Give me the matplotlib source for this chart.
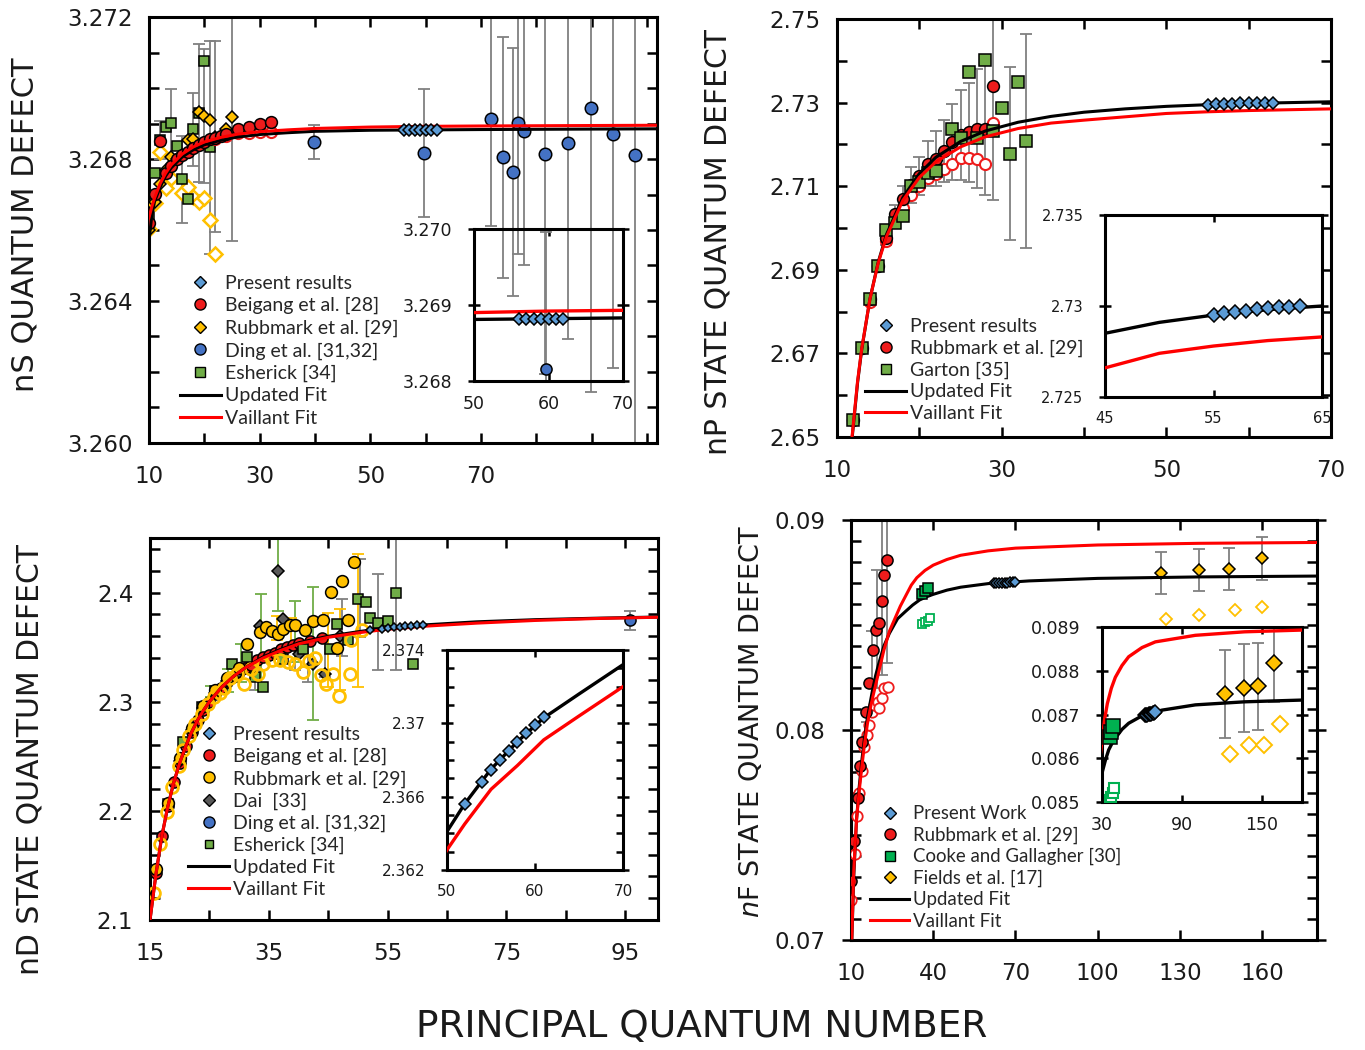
import matplotlib
matplotlib.use('Agg')
import numpy as np
import matplotlib.pyplot as plt
from matplotlib.lines import Line2D
from matplotlib.ticker import FixedLocator, FuncFormatter

plt.rcParams['font.family'] = ['DejaVu Sans']

W, H = 1365, 1050

C_PRESENT = '#5b9bd5'
C_FIT_RED = '#ff0000'
C_RED = '#ee1c1c'
C_GOLD = '#ffc000'
C_DING = '#4472c4'
C_GREEN = '#70ad47'
C_COOKE = '#00b050'
C_DAI = '#595959'
C_BAR = '#808080'

# ---------------- nS data ----------------
fitS_black_n = [9.8, 10, 10.5, 11, 12, 13, 14, 16, 18, 20, 23, 26, 30, 35, 40, 50, 60, 70, 85, 101.5]
fitS_black = [3.2650, 3.2657, 3.2664, 3.2668, 3.2672, 3.26752, 3.26775, 3.26806, 3.26826, 3.26840,
              3.26853, 3.26862, 3.26869, 3.26874, 3.26878, 3.26881, 3.26882, 3.26883, 3.26884, 3.26885]
fitS_red_n = [10, 10.5, 11, 12, 13, 14, 16, 18, 20, 23, 26, 30, 35, 40, 50, 60, 70, 85, 101.5]
fitS_red = [3.26635, 3.26665, 3.26690, 3.26730, 3.26760, 3.26783, 3.26814, 3.26834, 3.26848, 3.26861,
            3.26870, 3.26877, 3.26882, 3.26886, 3.26890, 3.26892, 3.26893, 3.26894, 3.26895]

presS_n = [56, 57, 58, 59, 60, 61, 62]
presS = [3.26882, 3.26882, 3.26882, 3.26882, 3.26882, 3.26882, 3.26882]

beigS_n = [10, 11, 12, 13, 14, 15, 16, 17, 18, 19, 20, 21, 22, 23, 24, 26, 28, 30, 32]
beigS = [3.2662, 3.2670, 3.2685, 3.2676, 3.2678, 3.2680, 3.2681, 3.2682, 3.26832, 3.2684,
         3.26847, 3.26855, 3.2686, 3.26865, 3.2687, 3.26884, 3.26891, 3.26898, 3.26903]
beigS_open_n = [22, 24, 26, 28, 30, 32]
beigS_open = [3.26855, 3.26866, 3.26872, 3.26874, 3.26875, 3.26876]

rubbS_n = [10, 11, 12, 13, 14, 15, 16, 17, 18, 19, 20, 21, 22, 24, 25]
rubbS = [3.2660, 3.2668, 3.2673, 3.2677, 3.26806, 3.2680, 3.26811, 3.26853, 3.26855, 3.26933,
         3.26921, 3.26910, 3.26863, 3.26884, 3.26919]
rubbS_err = [0, 0, 0, 0, 0, 0, 0, 0, 0, 0, 0.0019, 0, 0.0027, 0, 0.0035]
rubbS_open_n = [10, 11, 12, 13, 14, 16, 17, 18, 19, 20, 21, 22]
rubbS_open = [3.26603, 3.26677, 3.26820, 3.26717, 3.26746, 3.26705, 3.26722, 3.26694, 3.26680,
              3.26690, 3.26628, 3.26532]

dingS_n = [39.8, 59.7, 71.8, 73.9, 75.8, 76.7, 77.8, 81.6, 85.8, 89.9, 93.8, 97.8]
dingS = [3.26849, 3.26816, 3.26912, 3.26805, 3.26763, 3.26902, 3.26880, 3.26814, 3.26844, 3.26943,
         3.26870, 3.26810]
dingS_err = [0.00048, 0.0018, 0.0030, 0.0034, 0.0035, 0.0037, 0.0038, 0.0062, 0.0055, 0.0080,
             0.0066, 0.0090]

eshS_n = [10, 11, 12, 13, 14, 15, 16, 17, 18, 19, 20, 21]
eshS = [3.26637, 3.26761, 3.26853, 3.26889, 3.26902, 3.26837, 3.26743, 3.26686, 3.26884, 3.26930,
        3.27077, 3.26833]
eshS_err = [0, 0, 0.00054, 0, 0.00094, 0, 0.00122, 0, 0.00103, 0.00195, 0, 0.0030]

# ---------------- nP data ----------------
fitP_n = [11.8, 12.5, 13, 14, 15, 16, 18, 20, 22, 25, 28, 32, 36, 40, 45, 50, 55, 60, 65, 70]
fitP_black = [2.6490, 2.6630, 2.6709, 2.6830, 2.6918, 2.6984, 2.7073, 2.7130, 2.7169, 2.7207,
              2.7232, 2.7253, 2.7267, 2.7277, 2.7285, 2.7291, 2.7295, 2.7298, 2.7300, 2.7302]
fitP_red = [2.6495, 2.6634, 2.6711, 2.6830, 2.6916, 2.6979, 2.7066, 2.7121, 2.7158, 2.7194,
            2.7218, 2.7238, 2.7251, 2.7258, 2.7266, 2.7274, 2.7278, 2.7281, 2.7283, 2.7285]

presP_n = [55, 56, 57, 58, 59, 60, 61, 62, 63]
presP = [2.72951, 2.72960, 2.72968, 2.72974, 2.72982, 2.72987, 2.72993, 2.72996, 2.73000]

rubbP_n = [12, 13, 14, 15, 16, 17, 18, 19, 20, 21, 22, 23, 24, 25, 26, 27, 28, 29]
rubbP = [2.6540, 2.6712, 2.6829, 2.6908, 2.6975, 2.7034, 2.7070, 2.7104, 2.7125, 2.7154, 2.7166,
         2.7184, 2.7205, 2.7222, 2.7229, 2.7238, 2.7236, 2.7340]
rubbP_err = [0.0005, 0.0005, 0.0005, 0.001, 0.0015, 0.002, 0.003, 0.0043, 0.0046, 0.0054, 0.0065,
             0.0075, 0.0091, 0.0108, 0.0119, 0.0142, 0.0156, 0.0272]
rubbP_open_n = [14, 16, 18, 19, 20, 21, 22, 23, 24, 25, 26, 27, 28, 29]
rubbP_open = [2.6822, 2.6968, 2.7048, 2.7080, 2.7100, 2.7120, 2.7128, 2.7140, 2.7154, 2.7168,
              2.7168, 2.7164, 2.7154, 2.7252]

gartP_n = [12, 13, 14, 15, 16, 17, 18, 19, 20, 21, 22, 24, 25, 26, 27, 28, 29, 30, 31, 32, 33]
gartP = [2.6541, 2.6712, 2.6829, 2.6908, 2.6996, 2.7012, 2.7028, 2.7100, 2.7109, 2.7132, 2.7136,
         2.7238, 2.7216, 2.7373, 2.7216, 2.7402, 2.7232, 2.7287, 2.7178, 2.7349, 2.7207]
gartP_err = [0, 0, 0, 0, 0, 0, 0, 0, 0, 0, 0, 0, 0, 0, 0, 0, 0, 0, 0.0206, 0, 0.0256]

# ---------------- nD data ----------------
fitD_n = [15, 15.5, 16, 17, 18, 19, 20, 21, 22, 23, 24, 25, 27, 29, 31, 34, 37, 40, 45, 50, 52,
          55, 58, 61, 65, 70, 80, 90, 100.5]
fitD_black = [2.100, 2.121, 2.142, 2.177, 2.204, 2.226, 2.244, 2.259, 2.272, 2.283, 2.292, 2.300,
              2.313, 2.323, 2.331, 2.341, 2.348, 2.354, 2.3600, 2.3641, 2.3656, 2.3675, 2.3690,
              2.3703, 2.3716, 2.3732, 2.3752, 2.3765, 2.3776]
fitD_red = [2.100, 2.121, 2.142, 2.177, 2.204, 2.226, 2.244, 2.259, 2.272, 2.283, 2.292, 2.300,
            2.313, 2.323, 2.331, 2.340, 2.347, 2.353, 2.3590, 2.3631, 2.3645, 2.3664, 2.3677,
            2.3691, 2.3704, 2.3720, 2.3745, 2.3762, 2.3774]

presD_n = [52, 54, 55, 56, 57, 58, 59, 60, 61]
presD = [2.36558, 2.36681, 2.36745, 2.36800, 2.36851, 2.36900, 2.36946, 2.36991, 2.37033]

beigD_n = [16, 17, 18, 19, 20, 21, 22, 23, 24, 25, 26, 27, 28, 29, 30, 31, 32, 33, 34, 35, 36, 37,
           38, 39, 40, 42, 44]
beigD = [2.143, 2.177, 2.204, 2.226, 2.244, 2.259, 2.272, 2.283, 2.292, 2.300, 2.307, 2.313, 2.318,
         2.323, 2.327, 2.331, 2.334, 2.338, 2.341, 2.343, 2.345, 2.348, 2.350, 2.352, 2.354, 2.356,
         2.358]

rubbD_n = [16, 18, 20, 22, 24, 26, 28, 30, 31.4, 33.5, 34.5, 35.5, 36.6, 37.4, 38.5, 39.4, 41.1,
           42.4, 44.1, 45.4, 46.4, 47.3, 48.4, 49.3]
rubbD = [2.147, 2.207, 2.248, 2.276, 2.296, 2.311, 2.322, 2.331, 2.3531, 2.3637, 2.3683, 2.3652,
         2.3616, 2.3668, 2.3704, 2.3704, 2.3659, 2.3744, 2.3750, 2.4009, 2.3494, 2.4110, 2.3750,
         2.4277]
rubbD_open_n = [15.6, 16.7, 17.8, 18.7, 19.8, 20.6, 21.6, 22.6, 23.7, 24.8, 25.8, 26.8, 27.5,
                28.4, 29.7, 30.9, 32.0, 33.2, 34.0, 35.5, 36.8, 38.2, 39.4, 40.8, 41.8, 42.7,
                43.8, 44.7, 45.8, 46.8, 48.6, 48.9, 50.6]
rubbD_open = [2.1243, 2.1694, 2.1990, 2.2219, 2.2408, 2.2554, 2.2683, 2.2799, 2.2890, 2.2975,
              2.3040, 2.3080, 2.3130, 2.3220, 2.3256, 2.3165, 2.3300, 2.3256, 2.3348, 2.3378,
              2.3378, 2.3363, 2.3348, 2.3271, 2.3371, 2.3402, 2.3241, 2.3165, 2.3256, 2.3048,
              2.3256, 2.3561, 2.3659]
rubbD_bar_n = [36.3, 38.8, 45.0, 46.9, 50.0]
rubbD_bar_c = [2.3675, 2.362, 2.3477, 2.3477, 2.3744]
rubbD_bar_e = [0.011, 0.015, 0.034, 0.037, 0.061]

daiD_n = [20, 22, 24, 26, 28, 30, 33.5, 36.6, 37.4, 40, 42.5, 44.5, 47]
daiD = [2.246, 2.274, 2.294, 2.308, 2.319, 2.327, 2.3698, 2.4195, 2.3760, 2.3440, 2.3348, 2.3256,
        2.3600]

dingD_n = [95.8]
dingD = [2.3745]
dingD_err = [0.0087]

eshD_n = [18, 20.6, 23.7, 26, 28.8, 31.3, 32.7, 34.0, 37.4, 40.8, 45.3, 46.4, 48.4, 50.0, 51.4,
          52.0, 53.4, 55.1, 56.4, 59.3]
eshD = [2.206, 2.263, 2.295, 2.310, 2.3348, 2.3408, 2.3225, 2.3134, 2.3393, 2.3485, 2.3485, 2.3714,
        2.3561, 2.3942, 2.3911, 2.3768, 2.3719, 2.3744, 2.3994, 2.3348]
eshD_gbar_n = [25.3, 28.1, 30.4, 33.7, 36.6, 39.4, 42.4]
eshD_gbar_c = [2.309, 2.3195, 2.3355, 2.3545, 2.4195, 2.3645, 2.3439]
eshD_gbar_e = [0.005, 0.0107, 0.0175, 0.0442, 0.036, 0.0282, 0.061]
eshD_kbar_n = [32.7, 39.4, 41.6, 44.5, 47.3, 50.4, 53.4, 56.4]
eshD_kbar_c = [2.3195, 2.3408, 2.337, 2.3416, 2.3683, 2.395, 2.3728, 2.3896]
eshD_kbar_e = [0.0091, 0.0122, 0.019, 0.019, 0.026, 0.036, 0.044, 0.061]

# ---------------- nF data ----------------
fitF_black_n = [10.3, 11, 12, 13, 14, 15, 16, 17, 18, 19, 20, 22, 24, 27, 30, 32.5, 35, 37.5, 40,
                45, 50, 60, 75, 100, 137, 180]
fitF_black = [0.0700, 0.0730, 0.0757, 0.0773, 0.0786, 0.0797, 0.0806, 0.0813, 0.0820, 0.0826,
              0.0831, 0.0840, 0.0846, 0.0853, 0.08566, 0.08595, 0.08619, 0.08634, 0.08646,
              0.08666, 0.08680, 0.08697, 0.08710, 0.08722, 0.08729, 0.08733]
fitF_red_n = [10.3, 11, 12, 13, 14, 15, 16, 17, 18, 20, 22, 24, 26, 28, 30, 32, 34, 37, 40, 45,
              50, 60, 70, 100, 137, 180]
fitF_red = [0.0701, 0.0733, 0.0757, 0.0771, 0.0783, 0.0794, 0.0803, 0.0810, 0.0816, 0.0827,
            0.0838, 0.0847, 0.0853, 0.0859, 0.0864, 0.0869, 0.08725, 0.08760, 0.08785, 0.08812,
            0.08832, 0.08853, 0.08866, 0.08881, 0.08889, 0.08893]

presF_n = [62, 63, 64, 65, 66, 67, 68, 69, 70]
presF = [0.08698, 0.08699, 0.08700, 0.08701, 0.08702, 0.08702, 0.08703, 0.08704, 0.08705]

rubbF_n = [10, 11.2, 12.4, 13.3, 13.9, 15.4, 16.7, 17.9, 19.1, 20.2, 21.4, 22.2, 23]
rubbF = [0.07281, 0.07471, 0.07678, 0.0783, 0.07941, 0.08087, 0.08222, 0.08381, 0.08476, 0.08508,
         0.08614, 0.08738, 0.0881]
rubbF_bar_n = [16, 17.5, 19.4, 21.2, 23]
rubbF_bar_c = [0.0800, 0.0835, 0.0848, 0.0863, 0.0866]
rubbF_bar_e = [0.0004, 0.0012, 0.0028, 0.0037, 0.0034]
rubbF_open_n = [10, 11.5, 12.1, 12.9, 13.9, 14.9, 15.7, 16.6, 17.5, 18.5, 19.7, 20.3, 21.4, 22.2,
                23.4]
rubbF_open = [0.0719, 0.07408, 0.0759, 0.07698, 0.07805, 0.07921, 0.07976, 0.08024, 0.08087,
              0.08119, 0.08135, 0.08106, 0.08154, 0.08198, 0.08206]

cookeF_n = [36, 37, 38]
cookeF = [0.08649, 0.08660, 0.08674]
cookeF_open_n = [36, 37, 38, 39]
cookeF_open = [0.08505, 0.08512, 0.08520, 0.08531]

fieldsF_n = [123, 137, 148, 160]
fieldsF = [0.08746, 0.08762, 0.08765, 0.08818]
fieldsF_err = [0.0010, 0.0010, 0.0010, 0.00103]
fieldsF_open_n = [125, 137, 150, 160]
fieldsF_open = [0.08529, 0.08548, 0.08571, 0.08587]

fieldsF_in_n = [122.3, 136.3, 146.8, 159.3]
fieldsF_in = [0.08747, 0.08761, 0.08764, 0.08817]
fieldsF_in_err = [0.0010, 0.0010, 0.0010, 0.00089]
fieldsF_in_open_n = [126, 140.3, 151.8, 163.5]
fieldsF_in_open = [0.0861, 0.0863, 0.0863, 0.08678]


def box(l, t, r, b):
    return [l / W, 1 - b / H, (r - l) / W, (b - t) / H]


def frame(ax, xmaj, ymaj, xmin=(), ymin=(), fmt='%.3f', size=16.5, padx=16, pady=12,
          lw=2.2, tl=7, majdir='in'):
    for sp in ax.spines.values():
        sp.set_linewidth(lw)
    ax.xaxis.set_major_locator(FixedLocator(xmaj))
    ax.xaxis.set_minor_locator(FixedLocator(list(xmin)))
    ax.yaxis.set_major_locator(FixedLocator(ymaj))
    ax.yaxis.set_minor_locator(FixedLocator(list(ymin)))
    if fmt == 'g':
        ax.yaxis.set_major_formatter(FuncFormatter(lambda v, p: '%g' % round(v, 6)))
    else:
        ax.yaxis.set_major_formatter(FuncFormatter(lambda v, p: fmt % v))
    ax.xaxis.set_major_formatter(FuncFormatter(lambda v, p: '%g' % v))
    ax.tick_params(which='both', direction='in', top=True, right=True, width=1.8,
                   length=tl, labelsize=size, labelcolor='#1a1a1a')
    ax.tick_params(which='major', axis='y', direction=majdir,
                   length=tl * (1.8 if majdir == 'inout' else 1))
    ax.tick_params(axis='x', pad=padx)
    ax.tick_params(axis='y', pad=pady)


def bars(ax, n, c, e, color=C_BAR, lw=1.3, cap=4, z=2):
    n, c, e = np.asarray(n), np.asarray(c), np.asarray(e)
    m = e > 0
    ax.errorbar(n[m], c[m], yerr=e[m], fmt='none', ecolor=color, elinewidth=lw,
                capsize=cap, capthick=lw, zorder=z)


def pts(ax, n, v, marker, face, edge='k', ms=8, mew=1.1, z=4):
    ax.plot(n, v, ls='none', marker=marker, ms=ms, mfc=face, mec=edge, mew=mew, zorder=z)


def fits(ax, nb, vb, nr, vr, lw=2.2):
    ax.plot(nb, vb, color='k', lw=lw, zorder=5)
    ax.plot(nr, vr, color=C_FIT_RED, lw=lw, zorder=5.1)


def legend(ax, items, anchor, fs=14, spacing=0.27):
    hs = [Line2D([], [], label=lab, **kw) for lab, kw in items]
    lg = ax.legend(handles=hs, loc='upper left', bbox_to_anchor=anchor, frameon=False,
                   prop={'family': 'Lato', 'size': fs}, labelspacing=spacing,
                   handlelength=2.1, handletextpad=0.2, borderaxespad=0, borderpad=0,
                   labelcolor='#262626')
    lg.set_zorder(10)


def mk(marker, face, ms=7, edge='k'):
    return dict(ls='none', marker=marker, ms=ms, mfc=face, mec=edge, mew=1)


LINE_K = dict(color='k', lw=2.2)
LINE_R = dict(color=C_FIT_RED, lw=2.2)

fig = plt.figure(figsize=(W / 100, H / 100), dpi=100)

# ================= nS panel =================
ax1 = fig.add_axes(box(149, 17, 657, 443))
bars(ax1, dingS_n, dingS, dingS_err)
bars(ax1, eshS_n, eshS, eshS_err)
bars(ax1, rubbS_n, rubbS, rubbS_err)
pts(ax1, rubbS_open_n, rubbS_open, 'D', 'white', C_GOLD, ms=7, mew=1.8)
pts(ax1, eshS_n, eshS, 's', C_GREEN, ms=7.5)
pts(ax1, rubbS_n, rubbS, 'D', C_GOLD, ms=6.5)
pts(ax1, beigS_open_n, beigS_open, 'o', 'white', C_RED, ms=8, mew=1.5)
pts(ax1, beigS_n, beigS, 'o', C_RED, ms=8.5)
pts(ax1, dingS_n, dingS, 'o', C_DING, ms=9)
fits(ax1, fitS_black_n, fitS_black, fitS_red_n, fitS_red)
pts(ax1, presS_n, presS, 'D', C_PRESENT, ms=6, z=6)
ax1.set_xlim(10, 101.8)
ax1.set_ylim(3.260, 3.272)
frame(ax1, [10, 30, 50, 70], [3.260, 3.264, 3.268, 3.272],
      xmin=[20, 40, 60, 80, 90, 100], ymin=np.arange(3.261, 3.2715, 0.001), fmt='%.3f')
legend(ax1, [('Present results', mk('D', C_PRESENT, 6)),
             ('Beigang et al. [28]', mk('o', C_RED, 8)),
             ('Rubbmark et al. [29]', mk('D', C_GOLD, 6)),
             ('Ding et al. [31,32]', mk('o', C_DING, 8)),
             ('Esherick [34]', mk('s', C_GREEN, 7)),
             ('Updated Fit', LINE_K), ('Vaillant Fit', LINE_R)], (0.061, 0.395))

in1 = fig.add_axes(box(474, 229, 623, 381))
in1.patch.set_alpha(0)
bars(in1, dingS_n, dingS, dingS_err)
pts(in1, dingS_n, dingS, 'o', C_DING, ms=8)
fits(in1, fitS_black_n, fitS_black, fitS_red_n, fitS_red, lw=2.4)
pts(in1, presS_n, presS, 'D', C_PRESENT, ms=6, z=6)
in1.set_xlim(50, 70)
in1.set_ylim(3.268, 3.270)
frame(in1, [50, 60, 70], [3.268, 3.269, 3.270], fmt='%.3f', size=12.5, padx=10, pady=11,
      tl=5, majdir='inout')

# ================= nP panel =================
ax2 = fig.add_axes(box(837, 19, 1331, 437))
bars(ax2, rubbP_n, rubbP, rubbP_err)
bars(ax2, gartP_n, gartP, gartP_err)
pts(ax2, rubbP_open_n, rubbP_open, 'o', 'white', C_RED, ms=8, mew=1.5)
pts(ax2, rubbP_n, rubbP, 'o', C_RED, ms=8.5)
pts(ax2, gartP_n, gartP, 's', C_GREEN, ms=8.5)
fits(ax2, fitP_n, fitP_black, fitP_n, fitP_red)
pts(ax2, presP_n, presP, 'D', C_PRESENT, ms=6, z=6)
ax2.set_xlim(10, 70)
ax2.set_ylim(2.65, 2.75)
frame(ax2, [10, 30, 50, 70], [2.65, 2.67, 2.69, 2.71, 2.73, 2.75],
      xmin=[20, 40, 60], ymin=[2.66, 2.68, 2.70, 2.72, 2.74], fmt='%.2f')
legend(ax2, [('Present results', mk('D', C_PRESENT, 6)),
             ('Rubbmark et al. [29]', mk('o', C_RED, 8)),
             ('Garton [35]', mk('s', C_GREEN, 7)),
             ('Updated Fit', LINE_K), ('Vaillant Fit', LINE_R)], (0.057, 0.284),
       spacing=0.23)

in2 = fig.add_axes(box(1105, 215, 1322, 397))
in2.patch.set_alpha(0)
fits(in2, fitP_n, fitP_black, fitP_n, fitP_red, lw=2.4)
pts(in2, presP_n, presP, 'D', C_PRESENT, ms=7, z=6)
in2.set_xlim(45, 65)
in2.set_ylim(2.725, 2.735)
frame(in2, [45, 55, 65], [2.725, 2.73, 2.735], fmt='g', size=10.5, padx=10, pady=11,
      tl=5, majdir='inout')

# ================= nD panel =================
ax3 = fig.add_axes(box(150, 538, 658, 920))
bars(ax3, eshD_kbar_n, eshD_kbar_c, eshD_kbar_e)
bars(ax3, eshD_gbar_n, eshD_gbar_c, eshD_gbar_e, color=C_GREEN)
bars(ax3, rubbD_bar_n, rubbD_bar_c, rubbD_bar_e, color=C_GOLD)
bars(ax3, dingD_n, dingD, dingD_err)
pts(ax3, beigD_n, beigD, 'o', C_RED, ms=8)
pts(ax3, daiD_n, daiD, 'D', C_DAI, ms=6.5)
pts(ax3, eshD_n, eshD, 's', C_GREEN, ms=7)
pts(ax3, rubbD_n, rubbD, 'o', C_GOLD, ms=8.5)
pts(ax3, rubbD_open_n, rubbD_open, 'o', 'none', C_GOLD, ms=8.5, mew=2)
pts(ax3, dingD_n, dingD, 'o', C_DING, ms=8)
fits(ax3, fitD_n, fitD_black, fitD_n, fitD_red)
pts(ax3, presD_n, presD, 'D', C_PRESENT, ms=4, z=6)
ax3.set_xlim(15, 100.5)
ax3.set_ylim(2.1, 2.45)
frame(ax3, [15, 35, 55, 75, 95], [2.1, 2.2, 2.3, 2.4], xmin=[25, 45, 65, 85],
      ymin=np.arange(2.12, 2.445, 0.02), fmt='%.1f')
legend(ax3, [('Present results', mk('D', C_PRESENT, 6)),
             ('Beigang et al. [28]', mk('o', C_RED, 8)),
             ('Rubbmark et al. [29]', mk('o', C_GOLD, 8)),
             ('Dai  [33]', mk('D', C_DAI, 6)),
             ('Ding et al. [31,32]', mk('o', C_DING, 8)),
             ('Esherick [34]', mk('s', C_GREEN, 6)),
             ('Updated Fit', LINE_K), ('Vaillant Fit', LINE_R)], (0.075, 0.5075),
       spacing=0.25)

in3 = fig.add_axes(box(447, 650, 623, 870))
in3.patch.set_alpha(0)
fits(in3, fitD_n, fitD_black, fitD_n, fitD_red, lw=2.4)
pts(in3, presD_n, presD, 'D', C_PRESENT, ms=6.5, z=6)
in3.set_xlim(50, 70)
in3.set_ylim(2.362, 2.374)
frame(in3, [50, 60, 70], [2.362, 2.366, 2.37, 2.374],
      ymin=np.arange(2.363, 2.3735, 0.001), fmt='g', size=11, padx=10, pady=11,
      tl=5, majdir='inout')

# ================= nF panel =================
ax4 = fig.add_axes(box(851, 520, 1317, 940))
bars(ax4, rubbF_bar_n, rubbF_bar_c, rubbF_bar_e)
bars(ax4, fieldsF_n, fieldsF, fieldsF_err)
pts(ax4, rubbF_open_n, rubbF_open, 'o', 'white', C_RED, ms=7.5, mew=1.3)
pts(ax4, rubbF_n, rubbF, 'o', C_RED, ms=8)
pts(ax4, cookeF_open_n, cookeF_open, 's', 'white', C_COOKE, ms=6, mew=1.3)
fits(ax4, fitF_black_n, fitF_black, fitF_red_n, fitF_red)
pts(ax4, cookeF_n, cookeF, 's', C_COOKE, ms=7, z=6)
pts(ax4, fieldsF_open_n, fieldsF_open, 'D', 'white', C_GOLD, ms=6, mew=1.3)
pts(ax4, fieldsF_n, fieldsF, 'D', C_GOLD, ms=6.5)
pts(ax4, presF_n, presF, 'D', C_PRESENT, ms=5.5, z=6)
ax4.set_xlim(10, 180)
ax4.set_ylim(0.07, 0.09)
frame(ax4, [10, 40, 70, 100, 130, 160], [0.07, 0.08, 0.09],
      ymin=np.arange(0.071, 0.0895, 0.001), fmt='%.2f', majdir='inout')
legend(ax4, [('Present Work', mk('D', C_PRESENT, 6)),
             ('Rubbmark et al. [29]', mk('o', C_RED, 8)),
             ('Cooke and Gallagher [30]', mk('s', C_COOKE, 7)),
             ('Fields et al. [17]', mk('D', C_GOLD, 6)),
             ('Updated Fit', LINE_K), ('Vaillant Fit', LINE_R)], (0.041, 0.321),
       fs=13.4, spacing=0.23)

in4 = fig.add_axes(box(1102, 627, 1302, 802))
in4.patch.set_alpha(0)
bars(in4, fieldsF_in_n, fieldsF_in, fieldsF_in_err)
pts(in4, cookeF_open_n, cookeF_open, 's', 'white', C_COOKE, ms=7, mew=1.5)
fits(in4, fitF_black_n, fitF_black, fitF_red_n, fitF_red, lw=2.4)
pts(in4, cookeF_n, cookeF, 's', C_COOKE, ms=9.5, z=6)
pts(in4, presF_n, presF, 'D', C_PRESENT, ms=7, z=6)
pts(in4, fieldsF_in_open_n, fieldsF_in_open, 'D', 'white', C_GOLD, ms=8, mew=1.4)
pts(in4, fieldsF_in_n, fieldsF_in, 'D', C_GOLD, ms=8.5)
in4.set_xlim(30, 180)
in4.set_ylim(0.085, 0.089)
frame(in4, [30, 90, 150], [0.085, 0.086, 0.087, 0.088, 0.089], fmt='%.3f', size=12.5,
      padx=10, pady=11, tl=5, majdir='inout')

# ================= axis titles =================
fig.text(25 / W, 1 - 225 / H, 'nS QUANTUM DEFECT', rotation=90, ha='center', va='center',
         fontsize=22, color='#1a1a1a')
fig.text(718 / W, 1 - 242 / H, 'nP STATE QUANTUM DEFECT', rotation=90, ha='center',
         va='center', fontsize=21.5, color='#1a1a1a')
fig.text(30 / W, 1 - 760 / H, 'nD STATE QUANTUM DEFECT', rotation=90, ha='center',
         va='center', fontsize=21.5, color='#1a1a1a')
fig.text(752 / W, 1 - 722 / H, '$n$F STATE QUANTUM DEFECT', rotation=90, ha='center',
         va='center', fontsize=19.5, color='#1a1a1a')
fig.text(702 / W, 1 - 1027 / H, 'PRINCIPAL QUANTUM NUMBER', ha='center', va='center',
         fontsize=27, color='#1a1a1a')

fig.savefig('out.png', dpi=100, facecolor='white')
